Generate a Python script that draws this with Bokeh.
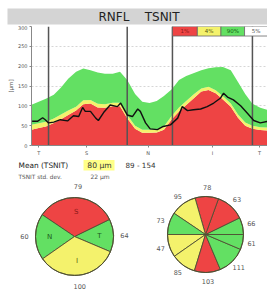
import numpy as np
from bokeh.plotting import figure
from bokeh.models import Range1d, FixedTicker
from bokeh.core.properties import value
from bokeh.embed import file_html
from bokeh.resources import INLINE

FONT = "DejaVu Sans"
RED = "#EE4444"
YEL = "#F4F26C"
GRN = "#63E063"
EDGE = "#4F4F33"

# ---------------- data ----------------
deg = [0, 11, 22, 34, 45, 56, 68, 79, 90, 101, 112, 124, 135, 146, 158, 169, 180,
       191, 202, 214, 225, 236, 248, 259, 270, 281, 292, 304, 315, 326, 337, 349, 360]
red_top = [40, 44, 48, 57, 66, 77, 88, 104, 106, 96, 95, 99, 99, 69, 42, 32, 32,
           33, 40, 66, 86, 102, 120, 136, 140, 132, 116, 98, 70, 50, 42, 39, 38]
yellow_top = [52, 56, 60, 68, 78, 88, 98, 114, 115, 105, 104, 108, 108, 77, 50, 40, 40,
              41, 48, 75, 96, 112, 130, 144, 148, 139, 124, 106, 78, 58, 50, 46, 45]
green_top = [103, 110, 118, 128, 146, 168, 186, 194, 190, 184, 181, 181, 186, 165, 130, 110, 107,
             112, 125, 142, 165, 175, 183, 190, 195, 197, 198, 190, 160, 130, 105, 95, 90]

line_deg = [1, 9, 17, 21, 26, 34, 44, 55, 64, 72, 78, 82, 90, 98, 102, 110, 120, 131, 136,
            146, 154, 162, 166, 174, 181, 192, 201, 212, 223, 230, 238, 247, 258, 268, 278,
            288, 293, 299, 308, 319, 329, 339, 349, 360]
line_um = [61, 61, 70, 65, 57, 59, 65, 62, 75, 73, 96, 86, 86, 69, 63, 83, 102, 98, 107,
           77, 73, 92, 86, 57, 42, 40, 48, 52, 69, 98, 88, 90, 92, 98, 107,
           119, 132, 122, 115, 100, 82, 63, 57, 61]

sector_bounds = [26, 146, 215, 337]
xtick_pos = [11, 84, 178, 276, 348]
xtick_labels = ["T", "S", "N", "I", "T"]
yticks = [0, 50, 100, 150, 200, 250, 300]

band_labels = ["1%", "4%", "90%", "5%"]
band_edges = [215, 253, 289, 325, 360]
band_fill = [RED, YEL, GRN, "#FFFFFF"]
band_text = ["#8B1A1A", "#5A5A10", "#105A10", "#555555"]

mean_tsnit = 80
std_tsnit = 22
normal_range = (89, 154)

pie1_labels = ["T", "S", "N", "I"]
pie1_values = [64, 79, 60, 100]
pie1_start = [337, 26, 146, 215]
pie1_end = [386, 146, 215, 337]
pie1_colors = [GRN, RED, GRN, YEL]
pie1_text_colors = ["#1F5A1F", "#8B1A1A", "#1F5A1F", "#5A5A10"]

pie2_values = [66, 63, 78, 95, 73, 47, 85, 103, 111, 61]
pie2_start = [0, 26, 70, 106, 146, 180, 215, 253, 293, 337]
pie2_end = [26, 70, 106, 146, 180, 215, 253, 293, 337, 360]
pie2_colors = [GRN, RED, RED, YEL, GRN, YEL, YEL, RED, GRN, GRN]

W = 267

# ---------------- title bar ----------------
H0 = 25
pt = figure(width=W, height=H0, x_range=Range1d(0, W), y_range=Range1d(0, H0),
            toolbar_location=None, output_backend="svg", min_border=0,
            x_axis_location=None, y_axis_location=None)
pt.grid.visible = False
pt.outline_line_color = None
pt.quad(left=[7], right=[W], bottom=[1], top=[17], fill_color="#D4D4D4", line_color=None)
pt.text(x=[138.5], y=[9], text=["RNFL\u00a0\u00a0\u00a0\u00a0TSNIT"],
        text_font=value(FONT), text_font_size="12px", text_color="#222222",
        text_align="center", text_baseline="middle")

# ---------------- TSNIT graph ----------------
p1 = figure(width=W, height=133, x_range=Range1d(0, 360), y_range=Range1d(0, 300),
            toolbar_location=None, output_backend="svg",
            min_border_left=31, min_border_right=0, min_border_top=1, min_border_bottom=12)
p1.outline_line_color = None
p1.xgrid.visible = False
p1.ygrid.grid_line_color = "#CCCCCC"
p1.ygrid.grid_line_dash = "2 2"
p1.ygrid.grid_line_width = 0.8

p1.varea(x=deg, y1=0, y2=red_top, color=RED)
p1.varea(x=deg, y1=red_top, y2=yellow_top, color=YEL)
p1.varea(x=deg, y1=yellow_top, y2=green_top, color=GRN)
p1.segment(x0=sector_bounds, y0=0, x1=sector_bounds, y1=300,
           line_color="#555555", line_width=1.5)
p1.line(x=line_deg, y=line_um, line_color="#111111", line_width=1.4)

centers = [(a + b) / 2 for a, b in zip(band_edges[:-1], band_edges[1:])]
p1.quad(left=band_edges[:-1], right=band_edges[1:], bottom=276, top=300,
        fill_color=band_fill, line_color="#666666", line_width=0.8)
p1.text(x=centers, y=[288] * len(centers), text=band_labels, text_color=band_text,
        text_font=value(FONT), text_font_size="5.5px",
        text_align="center", text_baseline="middle")

p1.xaxis.ticker = FixedTicker(ticks=xtick_pos)
p1.xaxis.major_label_overrides = {t: l for t, l in zip(xtick_pos, xtick_labels)}
p1.yaxis.ticker = FixedTicker(ticks=yticks)
p1.yaxis.axis_label = "[µm]"
for ax in (p1.xaxis, p1.yaxis):
    ax.axis_line_color = "#888888"
    ax.major_tick_line_color = "#888888"
    ax.major_tick_out = 2
    ax.major_tick_in = 0
    ax.minor_tick_line_color = None
    ax.major_label_text_font = FONT
    ax.major_label_text_font_size = "5px"
    ax.major_label_text_color = "#555555"
    ax.major_label_standoff = 2
p1.yaxis.axis_label_text_font = FONT
p1.yaxis.axis_label_text_font_size = "5.5px"
p1.yaxis.axis_label_text_font_style = "normal"
p1.yaxis.axis_label_text_color = "#555555"
p1.yaxis.axis_label_standoff = 1

# ---------------- bottom: values and pies ----------------
TOP2 = 158
H2 = 290 - TOP2
p2 = figure(width=W, height=H2, x_range=Range1d(0, W), y_range=Range1d(0, H2),
            toolbar_location=None, output_backend="svg", min_border=0,
            x_axis_location=None, y_axis_location=None)
p2.grid.visible = False
p2.outline_line_color = None

p2.quad(left=[83], right=[114], bottom=[290 - 170], top=[290 - 159.5], fill_color="#FFFF88",
        line_color=None)
p2.text(x=[18], y=[290 - 164.5], text=["Mean (TSNIT)"], text_font=value(FONT),
        text_font_size="7.4px", text_color="#222222", text_baseline="middle")
p2.text(x=[99], y=[290 - 164.5], text=[f"{mean_tsnit} µm"], text_font=value(FONT),
        text_font_size="7.6px", text_color="#333333", text_align="center",
        text_baseline="middle")
p2.text(x=[125], y=[290 - 164.5], text=[f"{normal_range[0]} - {normal_range[1]}"],
        text_font=value(FONT), text_font_size="7.2px", text_color="#333333",
        text_baseline="middle")
p2.text(x=[18], y=[290 - 176], text=["TSNIT std. dev."], text_font=value(FONT),
        text_font_size="5.8px", text_color="#555555", text_baseline="middle")
p2.text(x=[90], y=[290 - 176], text=[f"{std_tsnit} µm"], text_font=value(FONT),
        text_font_size="6px", text_color="#555555", text_baseline="middle")


def draw_pie(cx, cy, r, starts, ends, colors, values, lab_r):
    n = len(values)
    p2.wedge(x=[cx] * n, y=[cy] * n, radius=r,
             start_angle=list(np.radians(starts)), end_angle=list(np.radians(ends)),
             fill_color=colors, line_color=EDGE, line_width=0.9)
    p2.scatter(x=[cx], y=[cy], size=2 * r, marker="circle", fill_color=None,
               line_color=EDGE, line_width=1)
    mids = np.radians([(a + b) / 2 for a, b in zip(starts, ends)])
    p2.text(x=list(cx + lab_r * np.cos(mids)), y=list(cy + lab_r * np.sin(mids)),
            text=[str(v) for v in values], text_font=value(FONT),
            text_font_size="6.5px", text_color="#555555",
            text_align="center", text_baseline="middle")
    return mids


c1 = (74, 290 - 236)
m1 = draw_pie(c1[0], c1[1], 39, pie1_start, pie1_end, pie1_colors, pie1_values, 50)
p2.text(x=list(c1[0] + 25 * np.cos(m1)), y=list(c1[1] + 25 * np.sin(m1)), text=pie1_labels,
        text_color=pie1_text_colors, text_font=value(FONT), text_font_size="7px",
        text_align="center", text_baseline="middle")
draw_pie(205, 290 - 234, 38, pie2_start, pie2_end, pie2_colors, pie2_values, 47)

open("out.html", "w").write(file_html([pt, p1, p2], INLINE))
